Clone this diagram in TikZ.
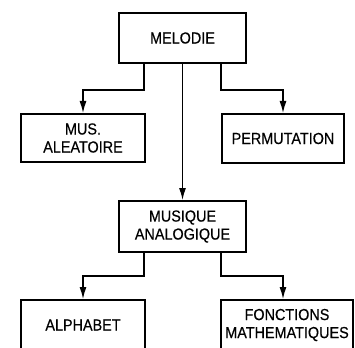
\documentclass[tikz,border=0pt]{standalone}
\usepackage{fontspec}
\setmainfont{Liberation Sans}[FakeStretch=0.9,FakeBold=0.4]
\usetikzlibrary{arrows.meta}

\tikzset{
  box/.style={draw, line width=2pt, align=center, inner sep=0pt,
    font=\fontsize{16}{18}\selectfont},
  link/.style={line width=1.3pt, -{Latex[length=12pt,width=7pt]}}
}

\begin{document}
\begin{tikzpicture}[x=1pt,y=-1pt]
\clip (0,0) rectangle (355,347);
\node[box, minimum width=127pt, minimum height=50pt] (melodie) at (182.5,38) {MELODIE};
\node[box, minimum width=124pt, minimum height=48pt] (mus) at (83,138) {MUS.\\ALEATOIRE};
\node[box, minimum width=122pt, minimum height=49pt] (perm) at (283,138.5) {PERMUTATION};
\node[box, minimum width=127pt, minimum height=51pt] (musique) at (182.5,226.5) {MUSIQUE\\ANALOGIQUE};
\node[box, minimum width=124pt, minimum height=50pt] (alpha) at (83,325) {ALPHABET};
\node[box, minimum width=132pt, minimum height=50pt] (fonct) at (287,325) {FONCTIONS\\MATHEMATIQUES};
% liaisons
\draw[link] ([xshift=-38.5pt]melodie.south) -- ++(0,26) -| (mus.north);
\draw[link] ([xshift=38.5pt]melodie.south) -- ++(0,26) -| (perm.north);
\draw[link] (melodie.south) -- (musique.north);
\draw[link] ([xshift=-38.5pt]musique.south) -- ++(0,23) -| (alpha.north);
\draw[link] ([xshift=38.5pt]musique.south) -- ++(0,23) -| ([xshift=-4pt]fonct.north);
\end{tikzpicture}
\end{document}
